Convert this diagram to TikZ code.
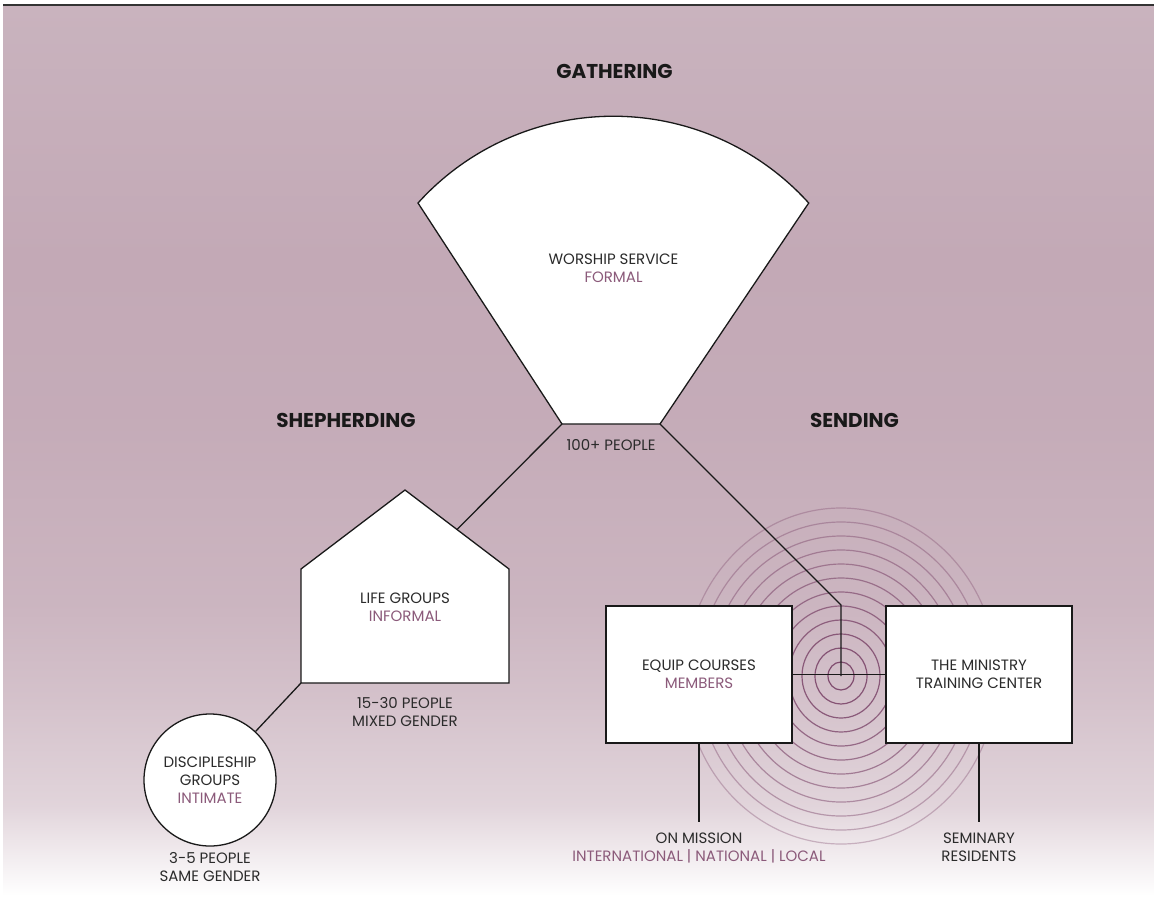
\documentclass[tikz,border=0pt]{standalone}
\usepackage{fontspec}
\setmainfont{Poppins}
\definecolor{ink}{HTML}{2B2B2B}
\definecolor{mauve}{HTML}{8B5A7A}
\definecolor{ringc}{HTML}{7C466A}
\definecolor{bgtop}{HTML}{C9B3BE}
\definecolor{bgmid}{HTML}{C3A9B6}
\pgfdeclareverticalshading{pagefade}{100bp}{color(0bp)=(white); color(26bp)=(white); color(31bp)=(bgmid!50!white); color(37bp)=(bgmid!72!white); color(42bp)=(bgmid!86!white); color(52bp)=(bgmid!97!white); color(61bp)=(bgmid); color(75bp)=(bgtop); color(100bp)=(bgtop)}
\newcommand{\mauvetext}[1]{\textcolor{mauve}{#1}}
\tikzset{
    outline/.style={draw=black!90, line width=1.3pt, fill=white},
    link/.style={draw=black!90, line width=1.3pt},
    body/.style={font=\fontsize{15}{17.8}\selectfont, text=ink, align=center, inner sep=0pt},
    heading/.style={font=\fontsize{20}{22}\selectfont\bfseries, text=black!90, inner sep=0pt},
    box/.style={outline, body, minimum width=186pt, minimum height=137pt}
}
\begin{document}
\begin{tikzpicture}[x=1pt, y=-1pt]
                    % Background
                    \useasboundingbox (0,0) rectangle (1154,914);
                    \shade[shading=pagefade] (3,5) rectangle (1154,914);
                    \draw[line width=2.5pt, black!80] (3,5) -- (1154,5);
                    % Rings
                    \foreach \k [evaluate=\k as \op using 1-0.055*\k] in {1,...,12}
                        \draw[ringc, line width=1.2pt, opacity=\op] (841,676) ellipse [x radius=13*\k, y radius=14*\k];
                    % Worship service
                    \draw[outline] (562,424) coordinate (ws-bl) -- (418,203) arc[start angle=-137.9, end angle=-42.1, radius=263.3] -- (660,424) coordinate (ws-br) -- cycle;
                    % Life groups
                    \draw[outline] (301,683) coordinate (lg-bl) -- (301,569) -- (405,490) -- (509,569) -- (509,683) -- cycle;
                    \coordinate (lg-roof) at (457,529.5);
                    % Discipleship groups
                    \node[outline, circle, body, minimum size=132pt] (disc) at (210,780) {DISCIPLESHIP\\GROUPS\\\mauvetext{INTIMATE}};
                    % Boxes
                    \node[box] (equip) at (699,674.5) {EQUIP COURSES\\\mauvetext{MEMBERS}};
                    \node[box] (minis) at (979,674.5) {THE MINISTRY\\TRAINING CENTER};
                    % Connectors
                    \coordinate (bend) at (841,605);
                    \coordinate (hub) at (841,676);
                    \coordinate (mission-top) at (699,822);
                    \coordinate (seminary-top) at (979,822);
                    \draw[link] (ws-bl) -- (lg-roof);
                    \draw[link] (lg-bl) -- (disc);
                    \draw[link] (ws-br) -- (bend) -- (hub);
                    \draw[link] (equip) -- (minis);
                    \draw[link] (equip) -- (mission-top);
                    \draw[link] (minis) -- (seminary-top);
                    % Headings
                    \node[heading, anchor=base] (gather) at (614.5,78.3) {GATHERING};
                    \node[heading, anchor=base] (shepherd) at (346,427.3) {SHEPHERDING};
                    \node[heading, anchor=base] (send) at (854.5,427.3) {SENDING};
                    % Texts (base = last line)
                    \node[body, anchor=base] (worship) at (613.5,282.3) {WORSHIP SERVICE\\\mauvetext{FORMAL}};
                    \node[body, anchor=base] (ws-size) at (611,450) {100+ PEOPLE};
                    \node[body, anchor=base] (lg-text) at (405,621.7) {LIFE GROUPS\\\mauvetext{INFORMAL}};
                    \node[body, anchor=base] (lg-size) at (405,726.7) {15-30 PEOPLE\\MIXED GENDER};
                    \node[body, anchor=base] (disc-size) at (210,881.7) {3-5 PEOPLE\\SAME GENDER};
                    \node[body, anchor=base] (mission) at (699,861.7) {ON MISSION\\\mauvetext{INTERNATIONAL | NATIONAL | LOCAL}};
                    \node[body, anchor=base] (seminary) at (979,861.7) {SEMINARY\\RESIDENTS};
\end{tikzpicture}
\end{document}
